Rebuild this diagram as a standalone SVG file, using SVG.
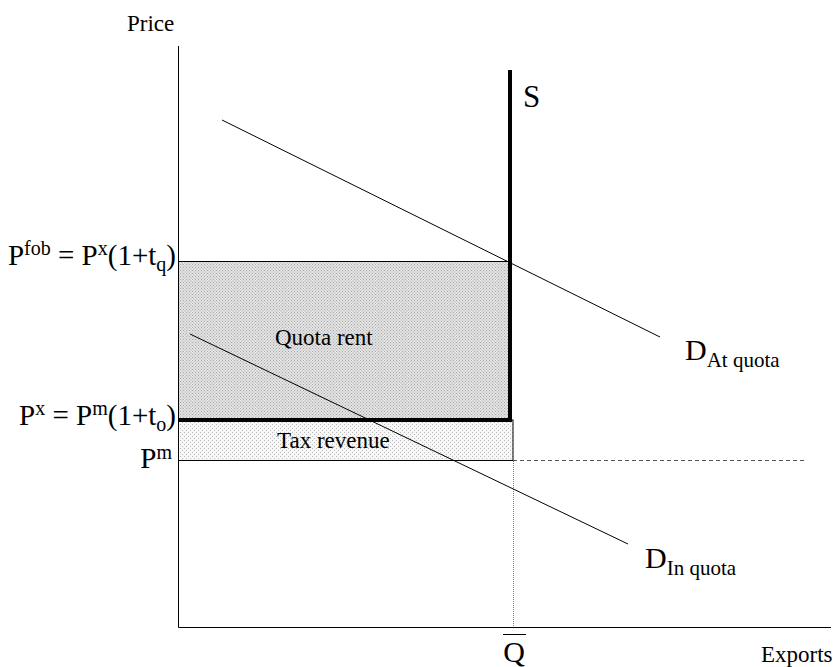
<svg xmlns="http://www.w3.org/2000/svg" width="837" height="667" viewBox="0 0 837 667">
<defs>
<pattern id="dense" width="3" height="3" patternUnits="userSpaceOnUse">
<rect width="3" height="3" fill="#e4e4e4"/>
<rect x="0" y="0" width="1" height="1" fill="#a6a6a6"/>
<rect x="1.5" y="1.5" width="1" height="1" fill="#a6a6a6"/>
</pattern>
<pattern id="light" width="4" height="4" patternUnits="userSpaceOnUse">
<rect width="4" height="4" fill="#f7f7f7"/>
<rect x="0" y="0" width="1" height="1" fill="#bcbcbc"/>
<rect x="2" y="2" width="1" height="1" fill="#bcbcbc"/>
</pattern>
</defs>
<style>
text{font-family:"Liberation Serif","Times New Roman",serif;fill:#000}
.lbl{font-size:23px}
.big{font-size:30px}
.sub{font-size:20px}
.thin{stroke:#000;stroke-width:1;fill:none}
.thick{stroke:#000;stroke-width:4;fill:none}
</style>
<rect width="837" height="667" fill="#fff"/>
<g id="areas">
<rect id="quota-rent-area" x="178.5" y="261.5" width="331.5" height="158.5" fill="url(#dense)" stroke="#000" stroke-width="1"/>
<rect id="tax-revenue-area" x="178.5" y="420" width="334.5" height="40.5" fill="url(#light)" stroke="#000" stroke-width="1"/>
</g>
<g id="axes">
<line class="thin" x1="178.5" y1="46" x2="178.5" y2="627.5"/>
<line class="thin" x1="178.5" y1="627.5" x2="831" y2="627.5"/>
</g>
<g id="connectors">
<line id="pm-dashed" x1="513" y1="460.5" x2="806" y2="460.5" stroke="#555" stroke-width="1" stroke-dasharray="4,3"/>
<line id="q-dotted" x1="513.5" y1="461" x2="513.5" y2="627" stroke="#777" stroke-width="1" stroke-dasharray="1,1"/>
<line id="d-at-quota" class="thin" x1="222" y1="120" x2="660" y2="337"/>
<line id="d-in-quota" class="thin" x1="190" y1="334" x2="628" y2="544"/>
<line id="px-line" class="thick" x1="178" y1="420" x2="512" y2="420"/>
<line id="supply" class="thick" x1="510" y1="70" x2="510" y2="422"/>
<line id="qbar" class="thin" x1="503" y1="634.5" x2="526" y2="634.5"/>
</g>
<g id="labels">
<text class="lbl" x="127" y="31">Price</text>
<text class="lbl" x="761" y="662">Exports</text>
<text class="big" x="523" y="107" style="font-size:31px">S</text>
<text class="lbl" x="275" y="345">Quota rent</text>
<text class="lbl" x="277" y="448">Tax revenue</text>
<text class="big" x="514" y="662" text-anchor="middle">Q</text>
<text class="big" x="176" y="265" text-anchor="end" style="font-size:29px">P<tspan class="sub" dy="-10">fob</tspan><tspan dy="10"> = P</tspan><tspan class="sub" dy="-10">x</tspan><tspan dy="10">(1+t</tspan><tspan class="sub" dy="6">q</tspan><tspan dy="-6">)</tspan></text>
<text class="big" x="176" y="425" text-anchor="end" style="font-size:29px">P<tspan class="sub" dy="-10">x</tspan><tspan dy="10"> = P</tspan><tspan class="sub" dy="-10">m</tspan><tspan dy="10">(1+t</tspan><tspan class="sub" dy="6">o</tspan><tspan dy="-6">)</tspan></text>
<text class="big" x="172" y="468" text-anchor="end" style="font-size:29px">P<tspan class="sub" dy="-9">m</tspan></text>
<text class="big" x="685" y="360">D<tspan class="sub" dy="7" style="font-size:21px">At quota</tspan></text>
<text class="big" x="645" y="568">D<tspan class="sub" dy="7" style="font-size:21px">In quota</tspan></text>
</g>
</svg>
